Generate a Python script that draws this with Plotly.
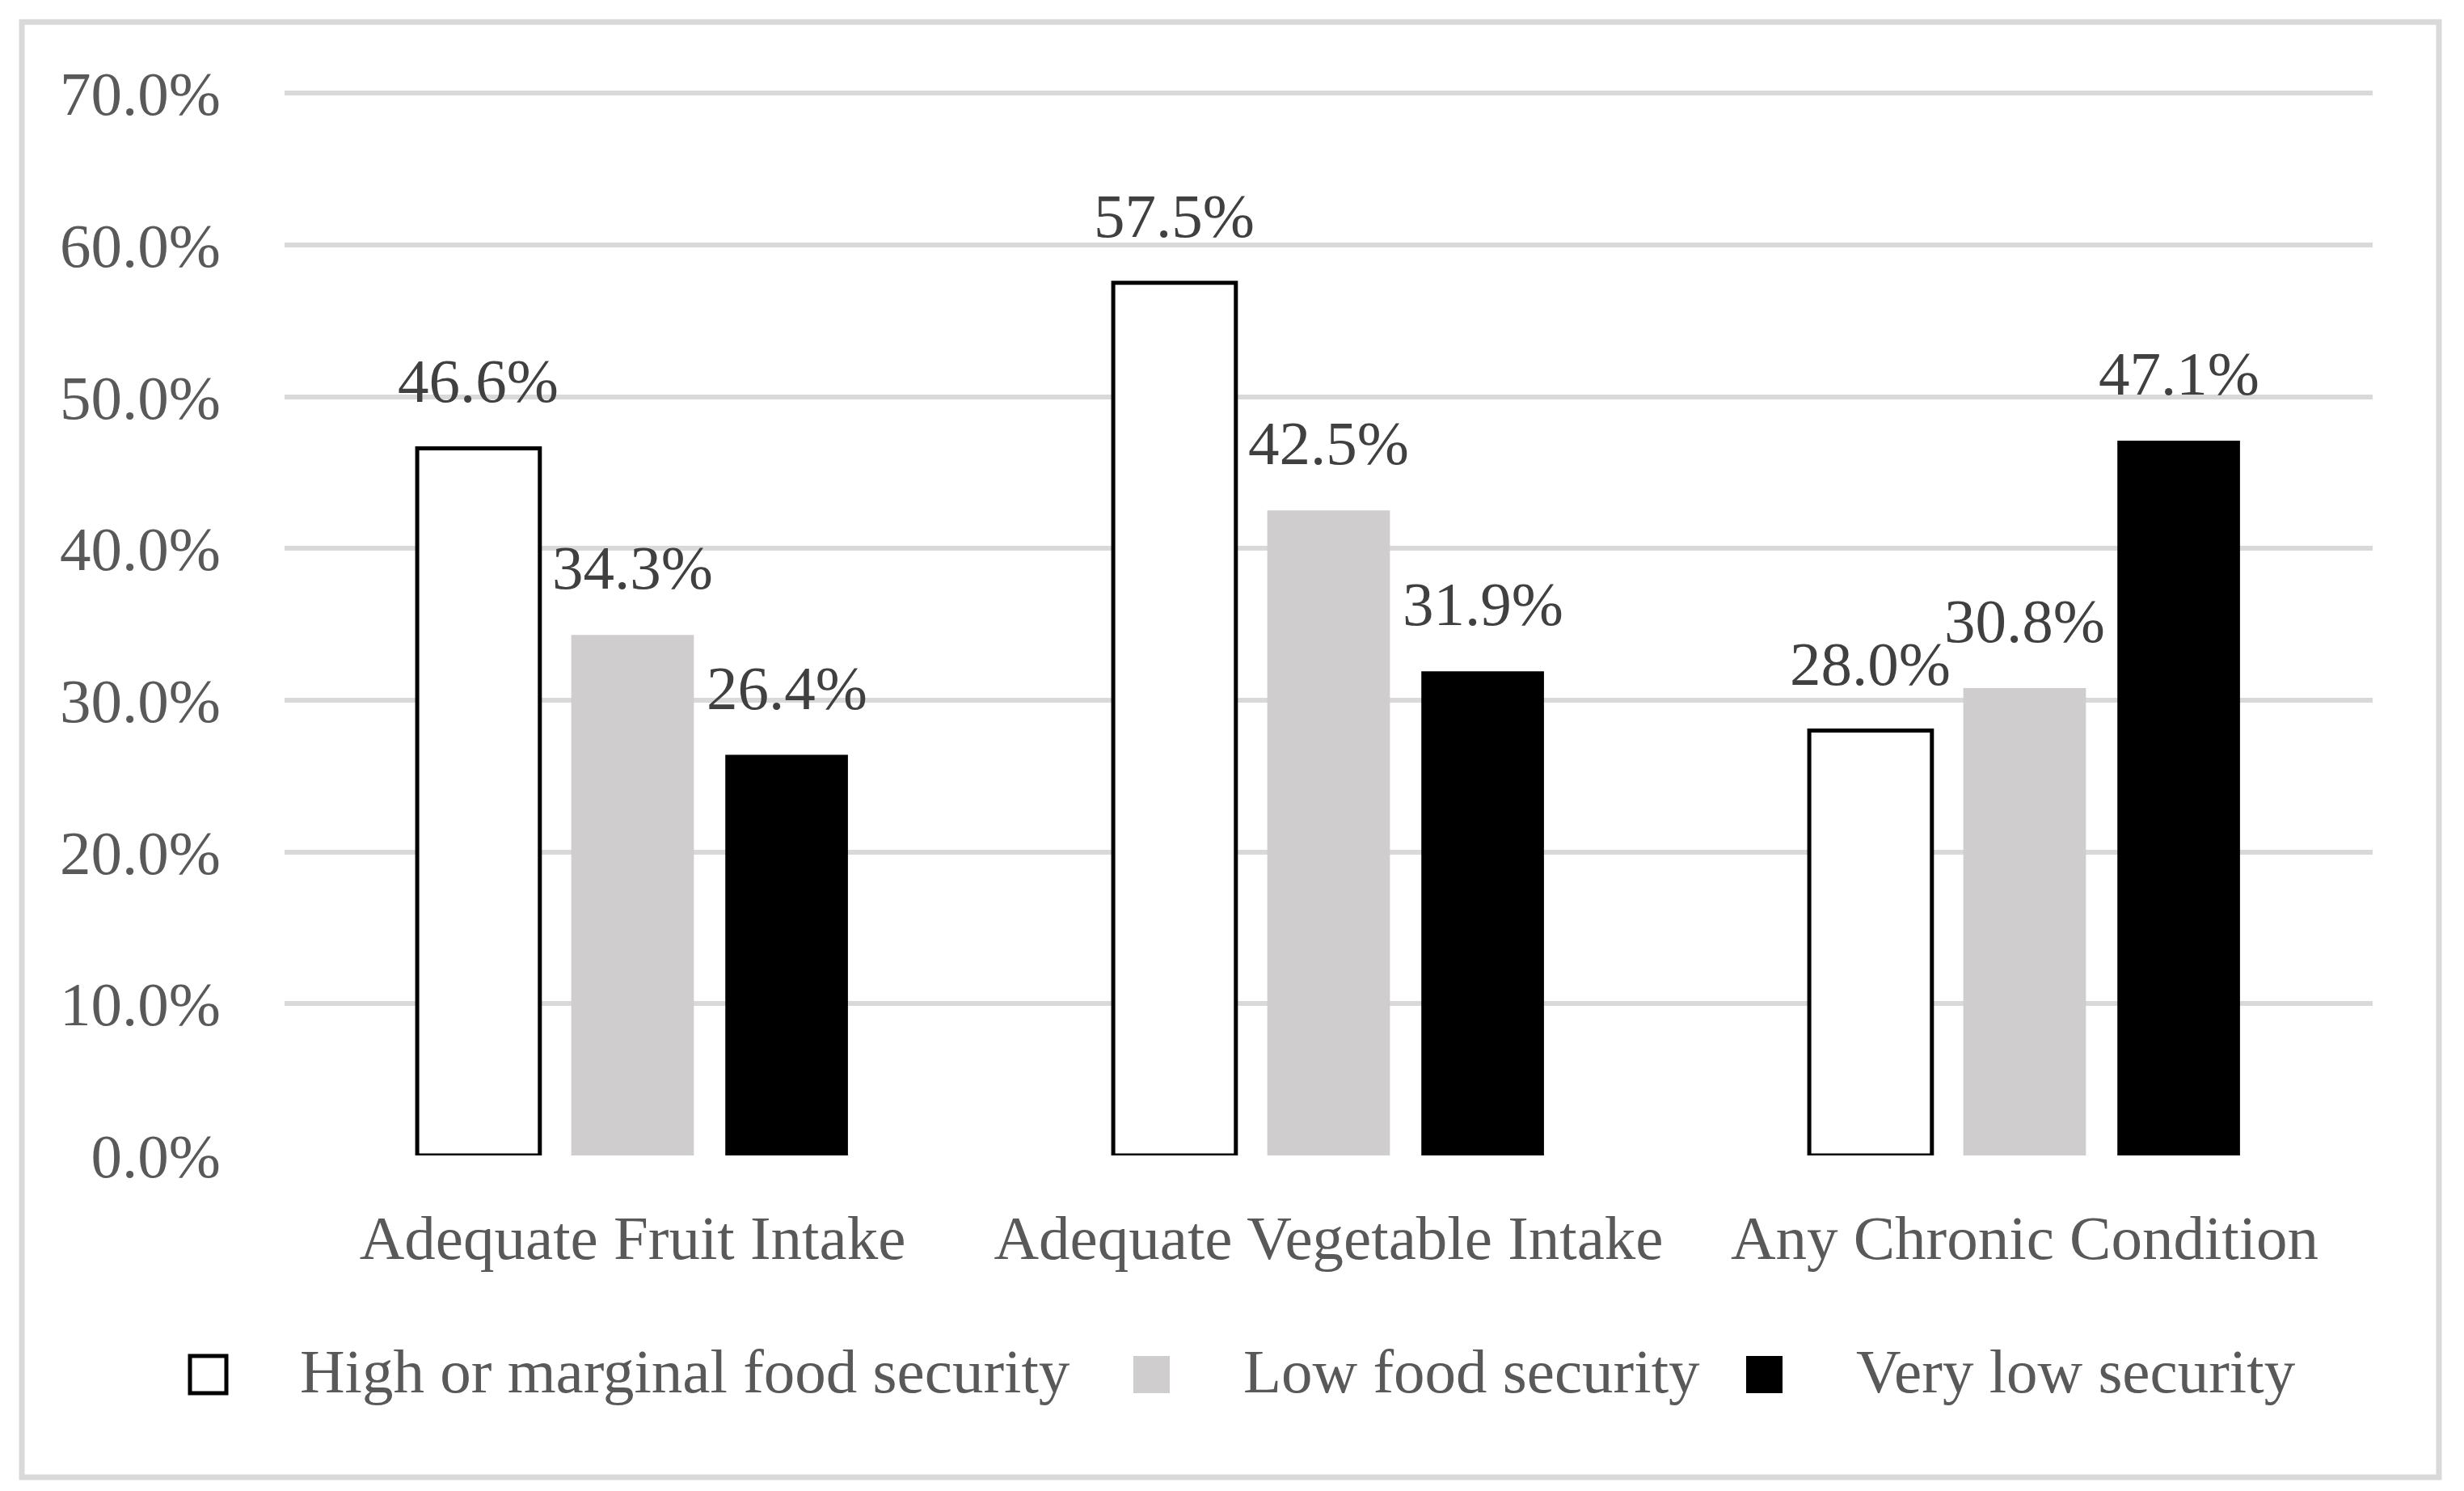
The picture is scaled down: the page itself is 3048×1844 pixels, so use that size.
import plotly.graph_objects as go

categories = ["Adequate Fruit Intake", "Adequate Vegetable Intake", "Any Chronic Condition"]
series_names = ["High or marginal food security", "Low food security", "Very low security"]
high_marginal = [46.6, 57.5, 28.0]
low_security = [34.3, 42.5, 30.8]
very_low = [26.4, 31.9, 47.1]
y_ticks = [0, 10, 20, 30, 40, 50, 60, 70]
y_tick_labels = ["0.0%", "10.0%", "20.0%", "30.0%", "40.0%", "50.0%", "60.0%", "70.0%"]

series_values = [high_marginal, low_security, very_low]
fill_colors = ["#ffffff", "#cfcdcd", "#000000"]
line_widths = [5, 0, 0]

W, H = 3048, 1844
OFF = 8  # page body margin offset
Y_TOP_TICK, Y_MAX = 70, 70.6
px_top_tick, px_zero = 115, 1429  # pixel rows of the 70% and 0% gridlines in the reference
unit = (px_zero - px_top_tick) / Y_TOP_TICK
L = 352 - OFF
R = 3048 - 2935 + OFF
T = px_top_tick - (Y_MAX - Y_TOP_TICK) * unit - OFF
B = 1844 - px_zero + OFF
PW, PH = W - L - R, H - T - B
FONT = "Liberation Serif"
FS = 77


def px_x(x):
    return (x - OFF - L) / PW


def px_y(y):
    return (H - B - (y - OFF)) / PH


fig = go.Figure()
for name, vals, col, lw in zip(series_names, series_values, fill_colors, line_widths):
    fig.add_trace(go.Bar(
        x=categories, y=vals, name=name,
        marker=dict(color=col, line=dict(color="#000000", width=lw)),
        showlegend=False,
    ))

# data labels above bars
slot = PW / 3 * (1 - 0.336) / 3
annotations = []
for i, vals in enumerate(series_values):
    for cat, v in zip(categories, vals):
        annotations.append(dict(
            x=cat, y=v, xref="x", yref="y", text=f"{v:.1f}%",
            showarrow=False, yanchor="bottom", xanchor="center",
            xshift=(i - 1) * slot, yshift=38,
            font=dict(family=FONT, size=FS, color="#404040"),
        ))

# manual legend (absolute pixel positions in the reference)
legend_marker_x = [233, 1400, 2158]
legend_text_x = [369, 1536, 2294]
legend_marker_yc = 1700
legend_text_yc = 1696
shapes = []
for i, name in enumerate(series_names):
    x0 = legend_marker_x[i]
    shapes.append(dict(
        type="rect", xref="paper", yref="paper",
        x0=px_x(x0 + 2), x1=px_x(x0 + 47),
        y0=px_y(legend_marker_yc + 23), y1=px_y(legend_marker_yc - 23),
        fillcolor=fill_colors[i], line=dict(color="#000000", width=line_widths[i]),
        layer="above",
    ))
    annotations.append(dict(
        x=px_x(legend_text_x[i]), y=px_y(legend_text_yc), xref="paper", yref="paper",
        text=name, showarrow=False, xanchor="left", yanchor="middle",
        font=dict(family=FONT, size=FS, color="#595959"),
    ))

# outer chart border
shapes.append(dict(
    type="rect", xref="paper", yref="paper",
    x0=px_x(27), x1=px_x(3017), y0=px_y(1827), y1=px_y(27),
    line=dict(color="#d9d9d9", width=7), fillcolor="rgba(0,0,0,0)", layer="below",
))

fig.update_layout(
    width=W, height=H,
    margin=dict(l=L, r=R, t=T, b=B, autoexpand=False),
    paper_bgcolor="#ffffff", plot_bgcolor="#ffffff",
    barmode="group", bargap=0.336, bargroupgap=0.204,
    font=dict(family=FONT, size=FS, color="#595959"),
    annotations=annotations, shapes=shapes,
    xaxis=dict(showgrid=False, showline=False, ticks="", ticklabelstandoff=50,
               tickfont=dict(family=FONT, size=FS, color="#595959")),
    yaxis=dict(range=[0, Y_MAX], tickvals=y_ticks, ticktext=y_tick_labels,
               showgrid=True, gridcolor="#d9d9d9", gridwidth=6, zeroline=False,
               showline=False, ticks="", ticklabelstandoff=78,
               tickfont=dict(family=FONT, size=FS, color="#595959")),
)

fig.write_html("out.html")
